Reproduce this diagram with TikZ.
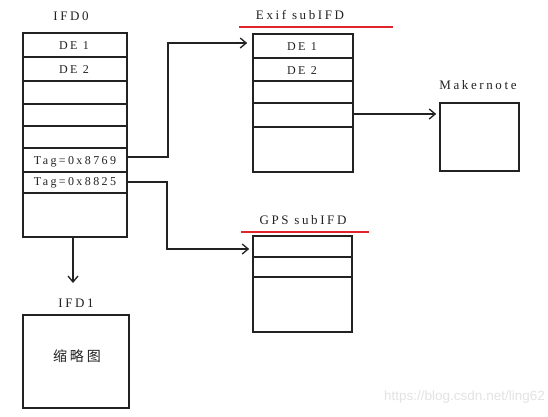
\documentclass[tikz,border=0pt]{standalone}
\usepackage{fontspec}
\setmainfont[LetterSpace=20]{Liberation Serif}
\newfontfamily\cjk[LetterSpace=20]{Noto Sans CJK SC}
\newfontfamily\wmfont{Liberation Sans}
\usetikzlibrary{arrows.meta}
\definecolor{ink}{HTML}{222222}
\definecolor{redline}{HTML}{E0242B}
\definecolor{wmgray}{HTML}{E3E3E3}
\tikzset{
  box/.style={draw=ink, line width=1.6pt, inner sep=0pt, fill=none},
  rowline/.style={draw=ink, line width=1.4pt},
  conn/.style={draw=ink, line width=1.4pt},
  arr/.style={conn, -{Straight Barb[length=6pt,width=10pt,line width=1.3pt]}},
  rowtext/.style={text=ink, font=\fontsize{12}{14}\selectfont, inner sep=0pt},
  title/.style={text=ink, font=\fontsize{13}{15}\selectfont, inner sep=0pt},
  underl/.style={draw=redline, line width=1.5pt},
}
\begin{document}
\begin{tikzpicture}[x=1pt,y=-1pt]
\path[use as bounding box, fill=white] (0,0) rectangle (548,416);

% boxes
\node[box, minimum width=104pt, minimum height=204pt] (ifd0) at (75,135) {};
\node[box, minimum width=100pt, minimum height=138pt] (exif) at (303,103) {};
\node[box, minimum width=79pt, minimum height=68pt] (mk) at (479.5,137) {};
\node[box, minimum width=99pt, minimum height=96pt] (gps) at (302.5,284) {};
\node[box, minimum width=106pt, minimum height=93pt] (ifd1) at (76,361.5) {};

% row lines
\foreach \yy in {57,81,104,126,148,172,193}
  \draw[rowline] (ifd0.west |- 0,\yy) -- (ifd0.east |- 0,\yy);
\foreach \yy in {58,81,103,127}
  \draw[rowline] (exif.west |- 0,\yy) -- (exif.east |- 0,\yy);
\foreach \yy in {257,277}
  \draw[rowline] (gps.west |- 0,\yy) -- (gps.east |- 0,\yy);

% titles
\node[title] (t0) at (71,16) {IFD0};
\node[title] (texif) at (300,15) {Exif subIFD};
\node[title] (tmk) at (478,85) {Makernote};
\node[title] (tgps) at (303,220) {GPS subIFD};
\node[title] (t1) at (76,303) {IFD1};
\draw[underl] (239,27) -- (393,27);
\draw[underl] (241,232) -- (369,232);

% row texts
\node[rowtext] (de1) at (74,46) {DE 1};
\node[rowtext] (de2) at (74,70) {DE 2};
\node[rowtext] (tag1) at (75,162) {Tag=0x8769};
\node[rowtext] (tag2) at (75,183) {Tag=0x8825};
\node[rowtext] (ede1) at (302,47) {DE 1};
\node[rowtext] (ede2) at (302,71) {DE 2};
\node[text=ink, font=\cjk\fontsize{14}{16}\selectfont, inner sep=0pt] (thumb) at (77,356) {缩略图};

% connectors
\coordinate (c1) at (ifd0.east |- 0,157);
\coordinate (c2) at (ifd0.east |- 0,182);
\draw[arr, shorten >=5pt] (c1) -- (168,157) |- (exif.west |- 0,43);
\draw[arr, shorten >=3pt] (c2) -- (167,182) |- (gps.west |- 0,249);
\draw[arr, shorten >=3pt] (exif.east |- 0,114) -- (mk.west |- 0,114);
\coordinate (d1) at (73,283);
\draw[arr] (ifd0.south -| d1) -- (d1);

% watermark
\node[text=wmgray, font=\wmfont\fontsize{13.5}{15}\selectfont, inner sep=0pt, anchor=east] (wm) at (545,397) {https://blog.csdn.net/ling62};
\end{tikzpicture}
\end{document}
